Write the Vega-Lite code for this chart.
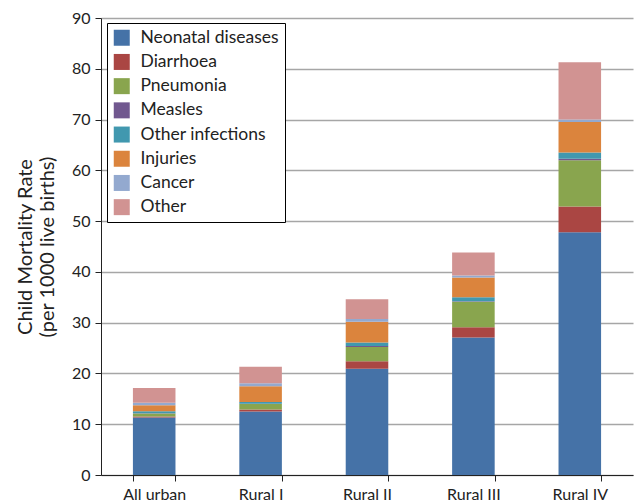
{
  "$schema": "https://vega.github.io/schema/vega-lite/v6.json",
  "width": 532,
  "height": 457,
  "autosize": {"type": "none"},
  "padding": {"left": 101, "top": 18, "right": 3, "bottom": 26},
  "background": "white",
  "config": {
    "font": "Lato",
    "view": {"stroke": null},
    "axis": {"labelFont": "Lato", "titleFont": "Lato", "labelColor": "#222", "titleColor": "#222"}
  },
  "data": {
    "values": [
      {"area": "All urban", "cause": "Neonatal diseases", "rank": 1, "rate": 11.3},
      {"area": "All urban", "cause": "Diarrhoea", "rank": 2, "rate": 0.2},
      {"area": "All urban", "cause": "Pneumonia", "rank": 3, "rate": 0.6},
      {"area": "All urban", "cause": "Measles", "rank": 4, "rate": 0.05},
      {"area": "All urban", "cause": "Other infections", "rank": 5, "rate": 0.4},
      {"area": "All urban", "cause": "Injuries", "rank": 6, "rate": 1.2},
      {"area": "All urban", "cause": "Cancer", "rank": 7, "rate": 0.5},
      {"area": "All urban", "cause": "Other", "rank": 8, "rate": 2.9},

      {"area": "Rural I", "cause": "Neonatal diseases", "rank": 1, "rate": 12.5},
      {"area": "Rural I", "cause": "Diarrhoea", "rank": 2, "rate": 0.4},
      {"area": "Rural I", "cause": "Pneumonia", "rank": 3, "rate": 1.1},
      {"area": "Rural I", "cause": "Measles", "rank": 4, "rate": 0.05},
      {"area": "Rural I", "cause": "Other infections", "rank": 5, "rate": 0.35},
      {"area": "Rural I", "cause": "Injuries", "rank": 6, "rate": 3.1},
      {"area": "Rural I", "cause": "Cancer", "rank": 7, "rate": 0.55},
      {"area": "Rural I", "cause": "Other", "rank": 8, "rate": 3.25},

      {"area": "Rural II", "cause": "Neonatal diseases", "rank": 1, "rate": 20.9},
      {"area": "Rural II", "cause": "Diarrhoea", "rank": 2, "rate": 1.5},
      {"area": "Rural II", "cause": "Pneumonia", "rank": 3, "rate": 2.8},
      {"area": "Rural II", "cause": "Measles", "rank": 4, "rate": 0.2},
      {"area": "Rural II", "cause": "Other infections", "rank": 5, "rate": 0.7},
      {"area": "Rural II", "cause": "Injuries", "rank": 6, "rate": 4.1},
      {"area": "Rural II", "cause": "Cancer", "rank": 7, "rate": 0.5},
      {"area": "Rural II", "cause": "Other", "rank": 8, "rate": 3.9},

      {"area": "Rural III", "cause": "Neonatal diseases", "rank": 1, "rate": 27.1},
      {"area": "Rural III", "cause": "Diarrhoea", "rank": 2, "rate": 2.0},
      {"area": "Rural III", "cause": "Pneumonia", "rank": 3, "rate": 5.0},
      {"area": "Rural III", "cause": "Measles", "rank": 4, "rate": 0.1},
      {"area": "Rural III", "cause": "Other infections", "rank": 5, "rate": 0.8},
      {"area": "Rural III", "cause": "Injuries", "rank": 6, "rate": 3.9},
      {"area": "Rural III", "cause": "Cancer", "rank": 7, "rate": 0.4},
      {"area": "Rural III", "cause": "Other", "rank": 8, "rate": 4.5},

      {"area": "Rural IV", "cause": "Neonatal diseases", "rank": 1, "rate": 47.8},
      {"area": "Rural IV", "cause": "Diarrhoea", "rank": 2, "rate": 5.1},
      {"area": "Rural IV", "cause": "Pneumonia", "rank": 3, "rate": 9.1},
      {"area": "Rural IV", "cause": "Measles", "rank": 4, "rate": 0.3},
      {"area": "Rural IV", "cause": "Other infections", "rank": 5, "rate": 1.2},
      {"area": "Rural IV", "cause": "Injuries", "rank": 6, "rate": 6.0},
      {"area": "Rural IV", "cause": "Cancer", "rank": 7, "rate": 0.5},
      {"area": "Rural IV", "cause": "Other", "rank": 8, "rate": 11.3}
    ]
  },
  "mark": {"type": "bar"},
  "encoding": {
    "x": {
      "field": "area",
      "type": "nominal",
      "sort": null,
      "scale": {"paddingInner": 0.6, "paddingOuter": 0.3},
      "axis": {
        "title": null,
        "labelAngle": 0,
        "labelFontSize": 16,
        "labelPadding": 5,
        "tickBand": "extent",
        "tickSize": 6,
        "tickColor": "#222",
        "domainColor": "#222",
        "grid": false
      }
    },
    "y": {
      "field": "rate",
      "type": "quantitative",
      "stack": "zero",
      "scale": {"domain": [0, 90], "nice": false},
      "axis": {
        "title": ["Child Mortality Rate", "(per 1000 live births)"],
        "titleFontSize": 20,
        "titleFontWeight": "normal",
        "titleLineHeight": 22,
        "titlePadding": 14,
        "values": [0, 10, 20, 30, 40, 50, 60, 70, 80, 90],
        "labelFontSize": 16,
        "labelPadding": 5,
        "tickSize": 6,
        "tickColor": "#222",
        "domainColor": "#222",
        "gridColor": "#a6a6a6",
        "gridWidth": 1.3
      }
    },
    "color": {
      "field": "cause",
      "type": "nominal",
      "scale": {
        "domain": ["Neonatal diseases", "Diarrhoea", "Pneumonia", "Measles", "Other infections", "Injuries", "Cancer", "Other"],
        "range": ["#4572A7", "#AA4643", "#89A54E", "#71588F", "#4198AF", "#DB843D", "#93A9CF", "#D19392"]
      },
      "legend": {
        "title": null,
        "orient": "none",
        "legendX": 6,
        "legendY": 5,
        "symbolType": "square",
        "symbolSize": 256,
        "symbolStrokeWidth": 0,
        "symbolOpacity": 1,
        "labelFontSize": 17.5,
        "labelColor": "#222",
        "labelOffset": 10,
        "rowPadding": 5.2,
        "padding": 6,
        "strokeColor": "#000",
        "fillColor": "white"
      }
    },
    "order": {"field": "rank", "type": "quantitative"}
  }
}
